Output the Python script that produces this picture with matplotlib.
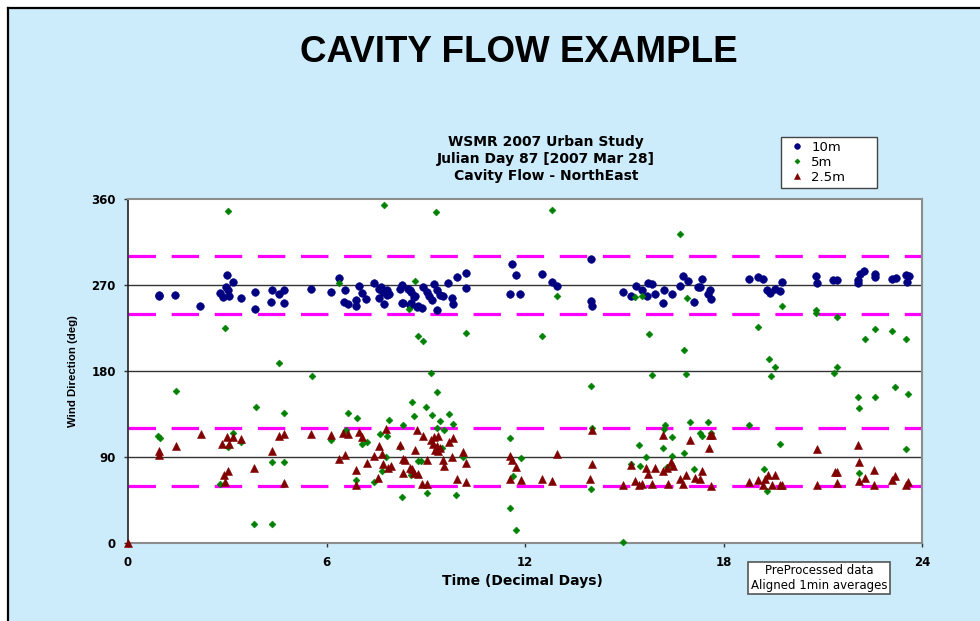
#Script that redraws the cavity flow wind direction chart

import matplotlib
matplotlib.use("Agg")
import matplotlib.pyplot as plt
from matplotlib.patches import Rectangle
from matplotlib.lines import Line2D

# 10m sensor: time (hours of day) and wind direction (deg)
t_10m = [0.94, 0.95, 1.43, 2.18, 3.0, 3.18, 2.96, 2.78, 3.03, 2.88, 3.05, 3.42, 3.83, 3.85,
         4.34, 4.57, 4.73, 4.32, 4.73, 5.54, 6.15, 6.39, 6.56, 6.53, 6.66, 6.88, 6.9, 6.99,
         7.06, 7.2, 7.44, 7.59, 7.64, 7.74, 7.82, 7.9, 7.6, 7.72, 7.84, 8.22, 8.29, 8.3,
         8.52, 8.65, 8.55, 8.78, 8.47, 8.55, 8.66, 8.27, 8.52, 8.73, 8.88, 8.93, 9.03, 9.11,
         9.18, 9.26, 9.33, 9.43, 9.53, 9.35, 9.68, 9.78, 9.82, 9.94, 10.22, 10.22, 11.62,
         11.73, 11.55, 11.85, 12.5, 12.81, 12.98, 14.0, 13.99, 14.03, 14.97, 15.2, 15.36,
         15.53, 15.73, 15.83, 15.68, 15.93, 16.2, 16.18, 16.44, 16.69, 16.79, 16.94, 17.11,
         17.24, 17.29, 17.36, 17.59, 17.54, 17.61, 18.78, 19.05, 19.2, 19.31, 19.41, 19.56,
         19.71, 19.78, 20.8, 20.82, 21.32, 21.42, 22.08, 22.06, 22.13, 22.25, 22.58, 22.58,
         23.09, 23.22, 23.52, 23.54, 23.62]
d_10m = [260, 258, 260, 248, 280, 273, 268, 262, 265, 257, 258, 256, 263, 245,
         265, 261, 265, 252, 251, 266, 263, 277, 265, 252, 250, 248, 254, 269,
         262, 255, 272, 256, 268, 250, 265, 261, 266, 263, 260, 266, 270, 251,
         265, 257, 251, 248, 266, 263, 258, 251, 249, 247, 246, 268, 263, 258,
         254, 271, 265, 260, 258, 244, 272, 256, 250, 278, 283, 267, 292,
         280, 261, 261, 281, 273, 269, 297, 253, 248, 263, 258, 269,
         265, 272, 271, 259, 261, 265, 251, 261, 269, 279, 274, 252,
         268, 268, 276, 265, 261, 255, 276, 278, 276, 265, 262, 266,
         264, 273, 279, 272, 275, 275, 275, 272, 282, 285, 281, 278,
         276, 277, 280, 273, 279]

# 5m sensor
t_5m = [3.03, 7.74, 2.93, 4.57, 6.38, 8.69, 8.48, 8.76, 9.31, 12.83, 16.69, 12.98, 8.91,
        10.23, 12.52, 15.75, 16.81, 15.34, 15.53, 16.9, 19.78, 20.8, 20.8, 21.42, 19.05,
        22.58, 23.09, 23.52, 22.28, 19.38, 19.57, 21.44, 19.43, 21.33, 16.87, 22.07, 22.11,
        22.59, 23.19, 23.59, 16.99, 17.54, 18.77, 17.29, 17.34, 17.61, 16.81, 19.71, 23.51,
        17.12, 19.23, 22.11, 19.31, 5.55, 1.44, 3.86, 4.73, 6.66, 6.91, 8.57, 8.63, 7.9,
        8.3, 0.9, 0.97, 3.18, 3.03, 3.42, 6.58, 6.15, 7.08, 7.22, 7.62, 7.82, 4.34, 4.71,
        2.78, 6.89, 7.44, 7.67, 7.8, 8.27, 8.55, 8.78, 3.82, 4.35, 9.15, 9.35, 9.01, 9.19,
        9.69, 9.43, 9.81, 9.33, 9.55, 11.54, 11.87, 11.63, 10.14, 8.85, 9.03, 9.92, 11.54,
        11.72, 13.98, 14.02, 13.99, 14.97, 15.83, 16.23, 16.2, 16.45, 15.46, 16.18, 15.65,
        16.45, 15.2, 15.49, 16.28, 8.22, 9.48]
d_5m = [347, 354, 225, 188, 272, 274, 245, 217, 346, 349, 323, 258, 211,
        220, 217, 219, 202, 257, 258, 256, 248, 244, 241, 237, 226,
        224, 222, 214, 213, 193, 184, 184, 175, 178, 177, 153, 141,
        153, 163, 156, 127, 127, 124, 115, 112, 115, 94, 104, 98,
        77, 77, 73, 54, 175, 159, 142, 136, 136, 131, 148, 133, 129,
        124, 112, 110, 115, 100, 106, 118, 108, 104, 106, 114, 112, 85, 85,
        62, 66, 64, 75, 90, 48, 71, 86, 20, 20, 178, 158, 142, 134,
        135, 128, 125, 120, 118, 110, 89, 70, 90, 86, 52, 50, 37,
        14, 164, 120, 57, 1, 176, 123, 119, 111, 103, 99, 90,
        91, 83, 81, 80, 100, 99]

# 2.5m sensor
t_25m = [0.0, 0.95, 0.95, 1.44, 2.21, 2.83, 3.0, 3.18, 3.06, 3.42, 2.9, 3.03, 2.94, 3.82,
         4.34, 4.56, 4.72, 4.71, 5.54, 6.15, 6.37, 6.57, 6.51, 6.66, 6.89, 6.88, 6.97, 7.06,
         7.22, 7.44, 7.57, 7.6, 7.67, 7.72, 7.87, 7.94, 7.8, 8.22, 8.3, 8.37, 8.3, 8.52, 8.63,
         8.68, 8.73, 8.78, 8.57, 8.91, 9.03, 8.88, 9.03, 9.15, 9.25, 9.38, 9.23, 9.33, 9.28,
         9.38, 9.43, 9.53, 9.55, 9.71, 9.82, 9.78, 10.14, 10.22, 9.94, 10.21, 11.55, 11.62,
         11.73, 11.55, 11.87, 12.5, 12.81, 12.97, 14.02, 14.04, 13.97, 14.97, 15.2, 15.33,
         15.46, 15.55, 15.65, 15.73, 15.94, 15.83, 16.18, 16.18, 16.28, 16.4, 16.46, 16.32,
         16.79, 16.69, 16.87, 16.99, 17.14, 17.36, 17.29, 17.55, 17.59, 17.64, 17.61, 18.78,
         19.05, 19.26, 19.36, 19.56, 19.2, 19.46, 19.71, 19.76, 20.82, 20.82, 21.37, 21.44,
         21.42, 22.06, 22.11, 22.11, 22.28, 22.56, 22.55, 23.09, 23.19, 23.52, 23.59]
d_25m = [0, 96, 92, 102, 114, 104, 111, 111, 104, 109, 71, 75, 64, 78,
         96, 112, 114, 63, 114, 113, 88, 92, 115, 114, 76, 61, 116, 111,
         84, 91, 68, 101, 93, 83, 78, 81, 119, 103, 88, 87, 73, 78, 73,
         97, 118, 72, 77, 112, 87, 62, 62, 108, 111, 112, 104, 101, 97,
         96, 99, 87, 81, 106, 110, 90, 95, 84, 67, 64, 91, 87,
         80, 67, 66, 67, 65, 93, 118, 83, 67, 61, 82, 65,
         61, 62, 79, 72, 78, 62, 113, 75, 78, 85, 81, 62,
         62, 67, 71, 108, 68, 75, 67, 99, 113, 113, 60, 64,
         66, 67, 71, 71, 61, 61, 61, 61, 98, 61, 74, 74,
         63, 103, 85, 65, 68, 76, 61, 66, 70, 61, 64]

ref_levels = [60, 120, 240, 300]
grid_levels = [90, 180, 270]
x_ticks = [0, 6, 12, 18, 24]
y_ticks = [0, 90, 180, 270, 360]
series_labels = ['10m', '5m', '2.5m']
subtitle = 'WSMR 2007 Urban Study\nJulian Day 87 [2007 Mar 28]\nCavity Flow - NorthEast'
note = 'PreProcessed data\nAligned 1min averages'

W, H = 980, 621
BG = '#CCEBFB'


def fx(px):
    return px / W


def fy(py):
    return 1 - py / H


plt.rcParams['font.family'] = ['Liberation Sans', 'DejaVu Sans']

fig = plt.figure(figsize=(W / 100, H / 100), dpi=100, facecolor='white')

# slide background with black frame on top and left
fig.patches.append(Rectangle((fx(8), 0), 1, fy(8), transform=fig.transFigure,
                             facecolor=BG, edgecolor='none', zorder=-10))
fig.lines.append(Line2D([fx(7.5), 1], [fy(7.5), fy(7.5)], transform=fig.transFigure,
                        color='black', lw=1.6))
fig.lines.append(Line2D([fx(7.5), fx(7.5)], [fy(7.5), 0], transform=fig.transFigure,
                        color='black', lw=1.6))

fig.text(fx(519), fy(52), 'CAVITY FLOW EXAMPLE', ha='center', va='center',
         fontsize=26.5, fontweight='bold')
fig.text(fx(546), fy(159), subtitle, ha='center', va='center', fontsize=10,
         fontweight='bold', family='DejaVu Sans', linespacing=1.3)

ax = fig.add_axes([fx(128), fy(543), (922 - 128) / W, (543 - 199) / H])
ax.set_facecolor('white')

for lv in grid_levels:
    ax.axhline(lv, color='#333333', lw=1.0, zorder=1)
for lv in ref_levels:
    ax.axhline(lv, color='#FF00FF', lw=2.3, dashes=(8.6, 4.9), zorder=2)

h1, = ax.plot(t_10m, d_10m, 'o', color='#000080', ms=5.5, mew=0.4, zorder=3, clip_on=False)
h2, = ax.plot(t_5m, d_5m, 'D', color='#008000', ms=3.5, mew=0.4, zorder=4, clip_on=False)
h3, = ax.plot(t_25m, d_25m, '^', color='#800000', ms=5.8, mew=0.4, zorder=5, clip_on=False)

ax.set_xlim(0, 24)
ax.set_ylim(0, 360)
ax.set_xticks(x_ticks)
ax.set_yticks(y_ticks)
ax.tick_params(direction='out', length=3.2, width=1, color='#333333', labelsize=8.5)
ax.tick_params(axis='y', pad=5.5)
ax.tick_params(axis='x', pad=6.5)
for lab in ax.get_xticklabels() + ax.get_yticklabels():
    lab.set_family('DejaVu Sans')
    lab.set_fontweight('bold')

ax.spines['left'].set_color('#222222')
ax.spines['left'].set_linewidth(1.2)
for side in ['top', 'right', 'bottom']:
    ax.spines[side].set_color('#8c8c8c')
    ax.spines[side].set_linewidth(1.5)

ax.set_xlabel('Time (Decimal Days)', fontsize=10, fontweight='bold', family='DejaVu Sans',
              va='center')
ax.xaxis.set_label_coords((522 - 128) / 794, (543 - 581) / 344)
ax.set_ylabel('Wind Direction (deg)', fontsize=8.2, fontweight='bold', va='center')
ax.yaxis.set_label_coords((73 - 128) / 794, (543 - 371) / 344)

leg = ax.legend([h1, h2, h3], series_labels, loc='upper left', mode='expand',
                bbox_to_anchor=(fx(781), fy(184), (877 - 781) / W, (184 - 137) / H),
                bbox_transform=fig.transFigure, borderaxespad=0, fancybox=False,
                framealpha=1, edgecolor='#444444', handlelength=1.9,
                handletextpad=0.1, labelspacing=0.15, borderpad=0.3, markerscale=0.75,
                prop={'family': 'DejaVu Sans', 'size': 9.5})
leg.get_frame().set_linewidth(1.0)

fig.text(fx(819), fy(578), note, ha='center', va='center', fontsize=8.5, family='DejaVu Sans',
         linespacing=1.1,
         bbox=dict(boxstyle='square,pad=0.2', facecolor='white', edgecolor='#555555', lw=1.2))

fig.savefig('out.png', dpi=100, facecolor=fig.get_facecolor())
